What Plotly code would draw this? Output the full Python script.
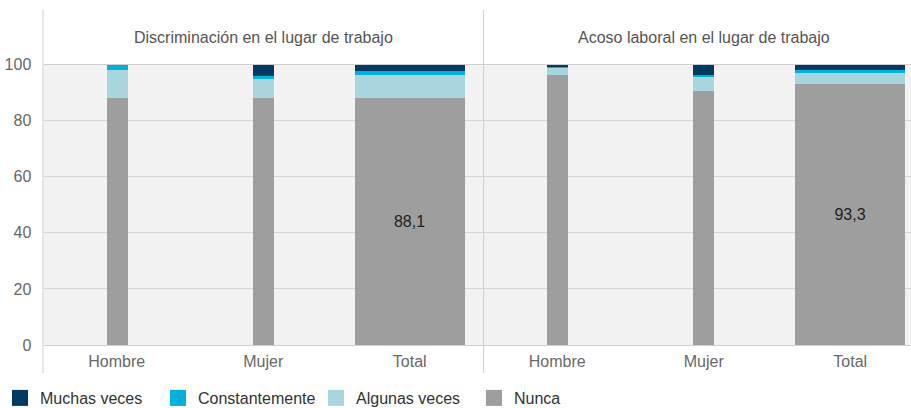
import plotly.graph_objects as go

W, H = 911, 408

categories = ["Hombre", "Mujer", "Total"]
panels = ["Discriminación en el lugar de trabajo", "Acoso laboral en el lugar de trabajo"]
series_names = ["Nunca", "Algunas veces", "Constantemente", "Muchas veces"]
legend_order = ["Muchas veces", "Constantemente", "Algunas veces", "Nunca"]

disc_nunca = [88.2, 88.2, 88.1]
disc_algunas = [10.0, 6.7, 8.2]
disc_const = [1.8, 1.0, 1.5]
disc_muchas = [0.0, 4.1, 2.2]

acoso_nunca = [96.3, 90.6, 93.3]
acoso_algunas = [2.9, 5.3, 3.9]
acoso_const = [0.4, 0.4, 0.9]
acoso_muchas = [0.4, 3.7, 1.9]

bar_widths = [0.145, 0.145, 0.75]
label_flags = [False, False, True]

colors = {
    "Nunca": "#9e9e9e",
    "Algunas veces": "#a7d6df",
    "Constantemente": "#00b2db",
    "Muchas veces": "#013a62",
}

panel_data = [
    [disc_nunca, disc_algunas, disc_const, disc_muchas],
    [acoso_nunca, acoso_algunas, acoso_const, acoso_muchas],
]

FONT = "Liberation Sans, Arial"

fig = go.Figure()
axes = [("x", "y"), ("x2", "y2")]
for p, (xa, ya) in enumerate(axes):
    for name, vals in zip(series_names, panel_data[p]):
        tt = ["%{y:.1f}" if (f and name == "Nunca") else "" for f in label_flags]
        fig.add_trace(go.Bar(
            x=categories, y=vals, name=name, width=bar_widths,
            marker=dict(color=colors[name], line=dict(width=0)),
            texttemplate=tt, textposition="inside", insidetextanchor="middle",
            textfont=dict(size=16, color="#222222", family=FONT),
            xaxis=xa, yaxis=ya, showlegend=False, hoverinfo="skip",
        ))

# legend entries
for name in legend_order:
    fig.add_trace(go.Scatter(
        x=[None], y=[None], mode="markers", name=name,
        marker=dict(symbol="square", size=17, color=colors[name]),
        xaxis="x", yaxis="y", showlegend=True,
    ))

def px_x(v):
    return v / W

def px_y(v):
    return 1 - v / H

slot = (483 - 43.5) / 3.0
right_w = W - 484
ydom = [px_y(345), px_y(64.7)]

axis_font = dict(size=16, color="#686868", family=FONT)

common_x = dict(type="category", showgrid=False, showline=True, linecolor="#cfcfcf",
                linewidth=1, mirror=True, ticks="outside", ticklen=2,
                tickcolor="rgba(0,0,0,0)", tickfont=axis_font, fixedrange=True)
common_y = dict(range=[0, 100], showgrid=True, gridcolor="#d6d6d6", gridwidth=1,
                zeroline=False, showline=False, dtick=20, fixedrange=True)

fig.update_layout(
    width=W, height=H,
    margin=dict(l=0, r=0, t=0, b=0, autoexpand=False),
    paper_bgcolor="white", plot_bgcolor="#f2f2f2",
    barmode="stack", bargap=0,
    separators=",.",
    font=dict(family=FONT, size=16, color="#555555"),
    xaxis=dict(domain=[px_x(43.5), px_x(483)], range=[-0.5, 2.5], anchor="y", **common_x),
    xaxis2=dict(domain=[px_x(484), 1.0], range=[-0.5, -0.5 + right_w / slot], anchor="y2", **common_x),
    yaxis=dict(domain=ydom, anchor="x", tickfont=axis_font, showticklabels=True,
               ticks="outside", ticklen=8, tickcolor="rgba(0,0,0,0)", **common_y),
    yaxis2=dict(domain=ydom, anchor="x2", showticklabels=False, ticks="", **common_y),
    legend=dict(orientation="h", x=0, xanchor="left", y=px_y(398), yanchor="middle",
                font=dict(size=16, color="#333333", family=FONT),
                entrywidth=113, entrywidthmode="pixels", itemsizing="trace",
                traceorder="normal",
                bgcolor="rgba(0,0,0,0)", tracegroupgap=0),
    showlegend=True,
)

# panel titles
for p, title in enumerate(panels):
    xc = (43.5 + 483) / 2 if p == 0 else 484 + slot * 1.5
    fig.add_annotation(text=title, x=px_x(xc), y=px_y(37), xref="paper", yref="paper",
                       showarrow=False, xanchor="center", yanchor="middle",
                       font=dict(size=16, color="#555555", family=FONT))

# panel divider lines
for xp in [43, 483.5]:
    fig.add_shape(type="line", xref="paper", yref="paper",
                  x0=px_x(xp), x1=px_x(xp), y0=px_y(10), y1=px_y(373),
                  line=dict(color="#cfcfcf", width=1))

fig.write_html("out.html",
               config={"displayModeBar": False},
               post_script="document.body.style.margin='0px';document.body.style.overflow='hidden';")
